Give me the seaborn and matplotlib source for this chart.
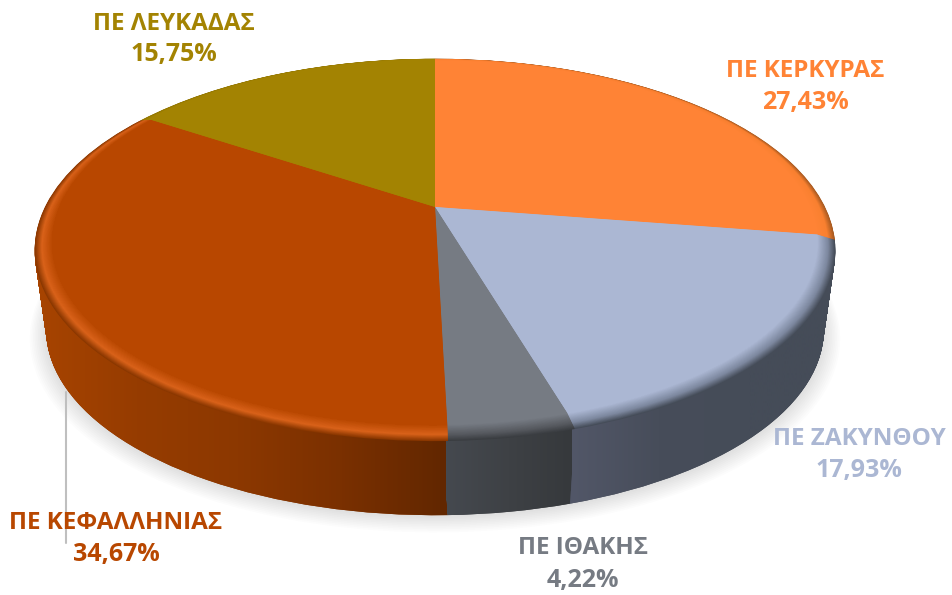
import numpy as np
import matplotlib
matplotlib.use('Agg')
import matplotlib.pyplot as plt
import matplotlib.transforms as mtransforms
from matplotlib.path import Path
import seaborn as sns

# data
names = ['ΠΕ ΚΕΡΚΥΡΑΣ', 'ΠΕ ΖΑΚΥΝΘΟΥ', 'ΠΕ ΙΘΑΚΗΣ', 'ΠΕ ΚΕΦΑΛΛΗΝΙΑΣ', 'ΠΕ ΛΕΥΚΑΔΑΣ']
shares = [27.43, 17.93, 4.22, 34.67, 15.75]

# colours per slice
top_colors = ['#ff8335', '#abb7d3', '#767b83', '#b84700', '#a38302']
rim_colors = ['#f98030', '#7d889f', '#575a60', '#d9621a', '#a38302']
edge_colors = ['#a85a20', '#454c58', '#3a3d41', '#8a3700', '#8f7300']
side_ramps = [
    ['#a85a20', '#a85a20'],
    ['#525768', '#474d5a', '#454c58', '#454c58'],
    ['#45494f', '#3e4145', '#36393c'],
    ['#a84400', '#963c00', '#8c3800', '#7a3000', '#622700'],
    ['#7a6200', '#7a6200'],
]
side_spans = [(780, 840), (568, 840), (446, 572), (30, 448), (130, 440)]
draw_order = [4, 0, 1, 3, 2]

label_pos = [(805, 71), (859, 439), (583, 548), (116, 523), (174, 24)]
value_pos = [(805, 103), (859, 471), (583, 580), (116, 554), (174, 54)]


class Tilt(mtransforms.Transform):
    # perspective view of the flat pie, result is in pixels
    input_dims = 2
    output_dims = 2

    def __init__(self, drop=0.0):
        super().__init__()
        self.drop = drop

    def transform_non_affine(self, values):
        values = np.asarray(values, dtype=float)
        d = 1 + 0.2 * values[:, 1]
        return np.column_stack([435 + 385 * values[:, 0] / d,
                                207 + self.drop - 180 * values[:, 1] / d])


sns.set_theme(style='white')
plt.rcParams['font.family'] = ['Open Sans', 'DejaVu Sans']

fig = plt.figure(figsize=(9.53, 5.95), dpi=100, facecolor='white')
ax = fig.add_axes([0, 0, 1, 1])


def layer(colors, radius, drop, alpha=None, zorder=1):
    wedges, _ = ax.pie(shares, colors=colors, radius=radius, startangle=90, counterclock=False,
                       wedgeprops={'linewidth': 0, 'alpha': alpha, 'zorder': zorder})
    tilt = Tilt(drop)
    for w in wedges:
        w.set_transform(tilt + ax.transData)
    return wedges, tilt


# soft shadow under the disc
for i in range(12):
    layer(['#000000'] * 5, 1.03 - i * 0.004, 92 - i * 0.5, alpha=0.012, zorder=1)

# side wall, from the bottom up
side_paths = [[] for _ in shares]
for i in range(82):
    drop = 86 - i
    radius = 0.99 + 0.028 * i / 81
    wedges, tilt = layer(edge_colors, radius, drop, zorder=2)
    for j, w in enumerate(wedges):
        side_paths[j].append(tilt.transform_path(w.get_path()))

# horizontal shading on the side wall
for z, j in enumerate(draw_order):
    ramp = np.array(sns.blend_palette(side_ramps[j], 64))[np.newaxis, :, :3]
    im = ax.imshow(ramp, extent=(side_spans[j][0], side_spans[j][1], 595, 0), aspect='auto',
                   interpolation='bilinear', zorder=3 + z * 0.1)
    im.set_clip_path(Path.make_compound_path(*side_paths[j]), ax.transData)

# rounded rim between wall and top
n_rim = 24
edge_fade = [sns.blend_palette([edge_colors[j], rim_colors[j]], 10) for j in range(5)]
top_fade = [sns.blend_palette([rim_colors[j], top_colors[j]], 15) for j in range(5)]
for i in range(n_rim):
    frac = i / (n_rim - 1)
    fade = edge_fade if i < 10 else top_fade
    cols = [f[i if i < 10 else i - 9] for f in fade]
    layer(cols, 1.018 - 0.043 * frac, 4 * (1 - frac), zorder=4 + i * 0.01)

# flat top
layer(top_colors, 0.975, 0, zorder=5)

ax.plot([66, 66], [392, 543], color='#bfbfbf', lw=1.5, zorder=6)

for j in range(5):
    ax.text(*label_pos[j], names[j], color=top_colors[j], fontsize=17.5, fontweight='bold',
            ha='center', va='center', zorder=7)
    ax.text(*value_pos[j], f'{shares[j]:.2f}%'.replace('.', ','), color=top_colors[j], fontsize=18,
            fontweight='bold', ha='center', va='center', zorder=7)

ax.set_aspect('auto')
ax.set_xlim(0, 953)
ax.set_ylim(595, 0)
ax.axis('off')

fig.savefig('out.png', dpi=100, facecolor='white')
